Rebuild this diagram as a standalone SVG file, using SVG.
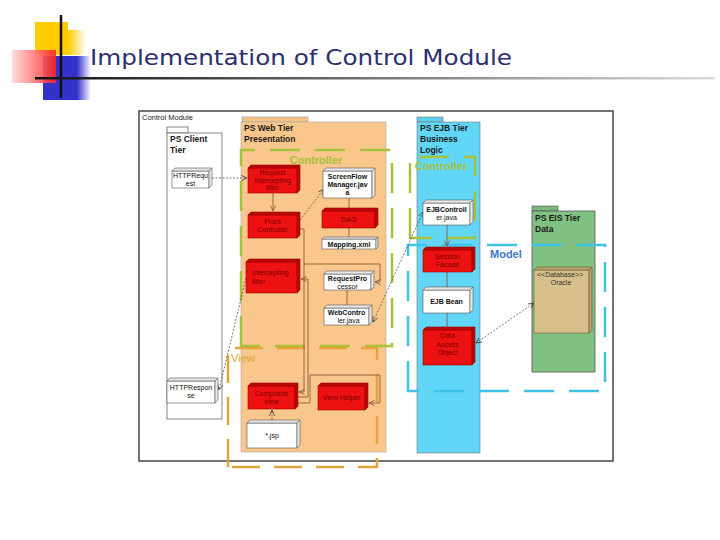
<svg xmlns="http://www.w3.org/2000/svg" width="720" height="540" viewBox="0 0 720 540">
<defs>
<linearGradient id="gLine" x1="0" y1="0" x2="1" y2="0">
<stop offset="0" stop-color="#111"/><stop offset="0.5" stop-color="#777"/><stop offset="1" stop-color="#ddd"/>
</linearGradient>
<linearGradient id="gRed" x1="0" y1="0" x2="1" y2="0">
<stop offset="0" stop-color="#ffd8d8"/><stop offset="1" stop-color="#ff2020"/>
</linearGradient>
<linearGradient id="gYel" x1="0" y1="0" x2="1" y2="0">
<stop offset="0" stop-color="#ffcc00"/><stop offset="1" stop-color="#ffcc00" stop-opacity="0"/>
</linearGradient>
<linearGradient id="gBlu" x1="0" y1="0" x2="1" y2="0">
<stop offset="0" stop-color="#3333cc"/><stop offset="1" stop-color="#3333cc" stop-opacity="0"/>
</linearGradient>
<marker id="arr" viewBox="0 0 8 8" refX="7.5" refY="4" markerWidth="6" markerHeight="6" orient="auto-start-reverse" markerUnits="userSpaceOnUse">
<path d="M0,0.5 L7.5,4 L0,7.5" fill="none" stroke="#333" stroke-width="1"/>
</marker>
<marker id="arrB" viewBox="0 0 8 8" refX="7.5" refY="4" markerWidth="6" markerHeight="6" orient="auto" markerUnits="userSpaceOnUse">
<path d="M0,0.5 L7.5,4 L0,7.5" fill="none" stroke="#7b5130" stroke-width="1"/>
</marker>
</defs>
<style>
text{font-family:"Liberation Sans",Arial,sans-serif}
.title{font-family:"DejaVu Sans","Liberation Sans",sans-serif;font-size:22px;fill:#2d2f70}
.tier{fill:none;stroke:#666;stroke-width:0.8}
.tl{font-size:8.5px;font-weight:bold;fill:#1a1a1a}
.red .f{fill:#ee1111;stroke:#a00000;stroke-width:0.6}
.red .s{fill:#b80808;stroke:#a00000;stroke-width:0.6}
.red text{fill:#7a0000;font-size:7px;text-anchor:middle}
.wh .f{fill:#fff;stroke:#555;stroke-width:0.6}
.wh .s{fill:#e8e8e8;stroke:#555;stroke-width:0.6}
.wh text{fill:#111;font-size:7px;text-anchor:middle}
.db .f{fill:#d8c08c;stroke:#6b5a30;stroke-width:0.6}
.db .s{fill:#b8a070;stroke:#6b5a30;stroke-width:0.6}
.db text{fill:#333;font-size:7px}
.dg{fill:none;stroke:#a6c13a;stroke-width:2.5;stroke-dasharray:30 15}
.dv{fill:none;stroke:#e3a43a;stroke-width:2.5;stroke-dasharray:28 14}
.dm{fill:none;stroke:#3ec3e6;stroke-width:2.5;stroke-dasharray:30 15}
.lab{font-size:11px;font-weight:bold}
.cb{fill:none;stroke:#7b5130;stroke-width:0.8}
.cd{fill:none;stroke:#444;stroke-width:0.7;stroke-dasharray:2 1.5}
</style>

<g id="logo">
<rect x="35" y="22" width="33" height="33" fill="#ffcc00"/>
<rect x="68" y="30" width="18" height="25" fill="url(#gYel)"/>
<rect x="43" y="56" width="34" height="44" fill="#3333cc"/>
<rect x="77" y="56" width="14" height="44" fill="url(#gBlu)"/>
<rect x="12" y="50" width="44" height="33" fill="url(#gRed)" opacity="0.9"/>
<line x1="61" y1="15" x2="61" y2="98" stroke="#111" stroke-width="2.5"/>
<rect x="35" y="77" width="680" height="2.5" fill="url(#gLine)"/>
</g>
<text class="title" x="90" y="65" textLength="422" lengthAdjust="spacingAndGlyphs">Implementation of Control Module</text>

<g id="control-module">
<rect x="139" y="111" width="474" height="350" fill="#fff" stroke="#444" stroke-width="1.5"/>
<text x="142" y="120" font-size="7.5" fill="#222">Control Module</text>
</g>

<g id="tier-client">
<rect class="tier" x="167" y="127" width="21" height="6" fill="#fff"/>
<rect class="tier" x="167" y="133" width="55" height="286" style="fill:#fff"/>
<text class="tl" x="170" y="142">PS Client</text>
<text class="tl" x="170" y="153">Tier</text>
</g>
<g id="tier-web">
<rect x="242" y="117" width="66" height="5" fill="#f5c283" stroke="#999" stroke-width="0.6"/>
<rect x="241" y="122" width="145" height="330" fill="#f9c68c" stroke="#aaa" stroke-width="0.6"/>
<text class="tl" x="244" y="131">PS Web Tier</text>
<text class="tl" x="244" y="142">Presentation</text>
</g>
<g id="tier-ejb">
<rect x="417" y="117" width="26" height="5" fill="#5fcff0" stroke="#777" stroke-width="0.6"/>
<rect x="417" y="122" width="63" height="331" fill="#62d6f6" stroke="#777" stroke-width="0.6"/>
<text class="tl" x="420" y="131">PS EJB Tier</text>
<text class="tl" x="420" y="142">Business</text>
<text class="tl" x="420" y="153">Logic</text>
</g>
<g id="tier-eis">
<rect x="532" y="206" width="26" height="5" fill="#78b878" stroke="#555" stroke-width="0.6"/>
<rect x="532" y="211" width="63" height="161" fill="#80c080" stroke="#555" stroke-width="0.8"/>
<text class="tl" x="535" y="221">PS EIS Tier</text>
<text class="tl" x="535" y="232">Data</text>
</g>

<g id="regions">
<path class="dg" d="M241,346 V150 H392 V346 Z"/>
<text class="lab" x="316" y="164" text-anchor="middle" fill="#a6c13a">Controller</text>
<path class="dg" d="M410,238 V157 H475 V238 Z"/>
<text class="lab" x="441" y="170" text-anchor="middle" fill="#a6c13a">Controller</text>
<path class="dm" d="M408,391 V245 H605 V391 Z"/>
<text class="lab" x="490" y="258" fill="#3a78c8">Model</text>
<path class="dv" d="M228,467 V348 H377 V467 Z"/>
<text class="lab" x="231" y="362" fill="#e3a43a" style="font-weight:normal">View</text>
</g>

<g id="connectors">
<path class="cd" d="M212,178 H247" marker-end="url(#arr)"/>
<path class="cb" d="M273,193 V211" marker-end="url(#arrB)"/>
<path class="cd" d="M300,220 L324,189" marker-end="url(#arr)"/>
<path class="cb" d="M349,198 V208"/>
<path class="cb" d="M349,228 V237"/>
<path class="cb" d="M300,229 H304 V392 H299" marker-end="url(#arrB)"/>
<path class="cb" d="M304,264 H380 V282 H375" marker-end="url(#arrB)"/>
<path class="cb" d="M298,397 H308 V279 H301" marker-end="url(#arrB)"/>
<path class="cb" d="M298,403 H310 V375 H380 V403 H369" marker-end="url(#arrB)"/>
<path class="cd" d="M246,278 L219,390" marker-end="url(#arr)"/>
<path class="cb" d="M347,290 V305"/>
<path class="cd" d="M373,322 L423,212" marker-start="url(#arr)" marker-end="url(#arr)"/>
<path class="cb" d="M447,225 V246" marker-end="url(#arrB)"/>
<path class="cb" d="M447,272 V287"/>
<path class="cb" d="M447,313 V327"/>
<path class="cd" d="M476,343 L534,303" marker-start="url(#arr)" marker-end="url(#arr)"/>
<path class="cd" d="M272,420 V410" marker-end="url(#arr)"/>
</g>

<g id="http-request" class="wh">
<rect class="f" x="172" y="171" width="37" height="17"/>
<polygon class="s" points="172,171 175,168 212,168 209,171"/>
<polygon class="s" points="209,171 212,168 212,185 209,188"/>
<text x="190.5" y="178">HTTPRequ</text><text x="190.5" y="186">est</text>
</g>
<g id="http-response" class="wh">
<rect class="f" x="167" y="381" width="48" height="22"/>
<polygon class="s" points="167,381 170,378 218,378 215,381"/>
<polygon class="s" points="215,381 218,378 218,400 215,403"/>
<text x="191" y="390">HTTPRespon</text><text x="191" y="398">se</text>
</g>
<g id="request-intercepting-filter" class="red">
<rect class="f" x="248" y="168" width="49" height="25"/>
<polygon class="s" points="248,168 251,165 300,165 297,168"/>
<polygon class="s" points="297,168 300,165 300,190 297,193"/>
<text x="272.5" y="175">Request</text><text x="272.5" y="182.5">Intercepting</text><text x="272.5" y="190">filter</text>
</g>
<g id="screenflow-manager" class="wh">
<rect class="f" x="323" y="171" width="49" height="27"/>
<polygon class="s" points="323,171 326,168 375,168 372,171"/>
<polygon class="s" points="372,171 375,168 375,195 372,198"/>
<text x="347.5" y="178.5" font-weight="bold">ScreenFlow</text><text x="347.5" y="186.5" font-weight="bold">Manager.jav</text><text x="347.5" y="194.5" font-weight="bold">a</text>
</g>
<g id="front-controller" class="red">
<rect class="f" x="248" y="215" width="49" height="23"/>
<polygon class="s" points="248,215 251,212 300,212 297,215"/>
<polygon class="s" points="297,215 300,212 300,235 297,238"/>
<text x="272.5" y="224">Front</text><text x="272.5" y="232">Controller</text>
</g>
<g id="dao-web" class="red">
<rect class="f" x="322" y="211" width="53" height="17"/>
<polygon class="s" points="322,211 325,208 378,208 375,211"/>
<polygon class="s" points="375,211 378,208 378,225 375,228"/>
<text x="348.5" y="222">DAO</text>
</g>
<g id="mapping-xml" class="wh">
<rect class="f" x="322" y="239" width="54" height="10"/>
<polygon class="s" points="322,239 324,237 378,237 376,239"/>
<polygon class="s" points="376,239 378,237 378,247 376,249"/>
<text x="349" y="247" font-weight="bold">Mapping.xml</text>
</g>
<g id="intercepting-filter" class="red">
<rect class="f" x="246" y="262" width="51" height="31"/>
<polygon class="s" points="246,262 249,259 300,259 297,262"/>
<polygon class="s" points="297,262 300,259 300,290 297,293"/>
<text x="252" y="275" style="text-anchor:start">Intercepting</text><text x="252" y="284" style="text-anchor:start">filter</text>
</g>
<g id="request-processor" class="wh">
<rect class="f" x="324" y="274" width="47" height="16"/>
<polygon class="s" points="324,274 327,271 374,271 371,274"/>
<polygon class="s" points="371,274 374,271 374,287 371,290"/>
<text x="347.5" y="281" font-weight="bold">RequestPro</text><text x="347.5" y="288.5">cessor</text>
</g>
<g id="web-controller" class="wh">
<rect class="f" x="324" y="308" width="45" height="17"/>
<polygon class="s" points="324,308 327,305 372,305 369,308"/>
<polygon class="s" points="369,308 372,305 372,322 369,325"/>
<text x="346.5" y="315" font-weight="bold">WebContro</text><text x="348.5" y="323">ler.java</text>
</g>
<g id="composite-view" class="red">
<rect class="f" x="248" y="386" width="47" height="23"/>
<polygon class="s" points="248,386 251,383 298,383 295,386"/>
<polygon class="s" points="295,386 298,383 298,406 295,409"/>
<text x="271.5" y="396">Composite</text><text x="271.5" y="404">view</text>
</g>
<g id="view-helper" class="red">
<rect class="f" x="318" y="386" width="47" height="24"/>
<polygon class="s" points="318,386 321,383 368,383 365,386"/>
<polygon class="s" points="365,386 368,383 368,407 365,410"/>
<text x="341.5" y="400">View Helper</text>
</g>
<g id="jsp" class="wh">
<rect class="f" x="247" y="423" width="50" height="25"/>
<polygon class="s" points="247,423 250,420 300,420 297,423"/>
<polygon class="s" points="297,423 300,420 300,445 297,448"/>
<text x="272" y="438">*.jsp</text>
</g>
<g id="ejb-controller" class="wh">
<rect class="f" x="423" y="203" width="47" height="22"/>
<polygon class="s" points="423,203 426,200 473,200 470,203"/>
<polygon class="s" points="470,203 473,200 473,222 470,225"/>
<text x="446.5" y="212" font-weight="bold">EJBControll</text><text x="446.5" y="220">er.java</text>
</g>
<g id="session-facade" class="red">
<rect class="f" x="423" y="250" width="49" height="22"/>
<polygon class="s" points="423,250 426,247 475,247 472,250"/>
<polygon class="s" points="472,250 475,247 475,269 472,272"/>
<text x="447.5" y="259">Session</text><text x="447.5" y="267">Facade</text>
</g>
<g id="ejb-bean" class="wh">
<rect class="f" x="423" y="290" width="47" height="23"/>
<polygon class="s" points="423,290 426,287 473,287 470,290"/>
<polygon class="s" points="470,290 473,287 473,310 470,313"/>
<text x="446.5" y="304" font-weight="bold">EJB Bean</text>
</g>
<g id="data-access-object" class="red">
<rect class="f" x="423" y="330" width="49" height="35"/>
<polygon class="s" points="423,330 426,327 475,327 472,330"/>
<polygon class="s" points="472,330 475,327 475,362 472,365"/>
<text x="447.5" y="338">Data</text><text x="447.5" y="346.5">Access</text><text x="447.5" y="355">Object</text>
</g>
<g id="database-oracle" class="db">
<rect class="f" x="534" y="270" width="55" height="63"/>
<polygon class="s" points="534,270 537,267 592,267 589,270"/>
<polygon class="s" points="589,270 592,267 592,330 589,333"/>
<text x="537" y="277">&lt;&lt;Database&gt;&gt;</text><text x="561" y="285" text-anchor="middle">Oracle</text>
</g>
</svg>
